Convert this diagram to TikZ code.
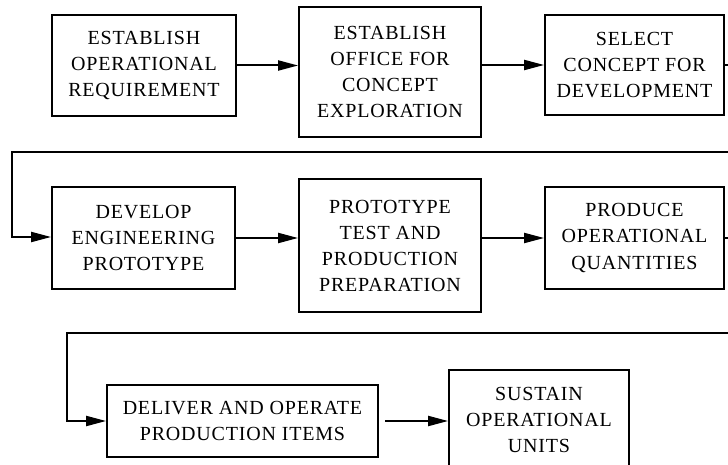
\documentclass[tikz,border=0pt]{standalone}
\usepackage{fontspec}
\setmainfont[LetterSpace=4.0]{Liberation Serif}
\usetikzlibrary{arrows.meta}
\begin{document}
\begin{tikzpicture}[x=1pt,y=-1pt,
  box/.style={draw, line width=1.8pt, inner sep=0pt, align=center,
    font=\fontsize{20}{26}\selectfont},
  flow/.style={line width=2pt, -{Triangle[length=20pt,width=10pt]}}]
\useasboundingbox (0,0) rectangle (728,465);
\clip (0,0) rectangle (728,465);
\node[box, minimum width=184pt, minimum height=101pt] (b1) at (144,65.5)
  {ESTABLISH\\OPERATIONAL\\REQUIREMENT};
\node[box, minimum width=182pt, minimum height=130pt] (b2) at (390,72)
  {ESTABLISH\\OFFICE FOR\\CONCEPT\\EXPLORATION};
\node[box, minimum width=179pt, minimum height=100pt] (b3) at (634.5,65)
  {SELECT\\CONCEPT FOR\\DEVELOPMENT};
\node[box, minimum width=183pt, minimum height=102pt] (b4) at (143.5,238)
  {DEVELOP\\ENGINEERING\\PROTOTYPE};
\node[box, minimum width=182pt, minimum height=133pt] (b5) at (390,245.5)
  {PROTOTYPE\\TEST AND\\PRODUCTION\\PREPARATION};
\node[box, minimum width=179pt, minimum height=102pt] (b6) at (634.5,238)
  {PRODUCE\\OPERATIONAL\\QUANTITIES};
\node[box, minimum width=271pt, minimum height=72pt] (b7) at (242.5,421)
  {DELIVER AND OPERATE\\PRODUCTION ITEMS};
\node[box, minimum width=180pt, minimum height=100pt, text depth=0pt] (b8) at (539,420)
  {SUSTAIN\\OPERATIONAL\\UNITS};
% free-end coordinates of the return lines
\coordinate (r1a) at (733,65);
\coordinate (r1b) at (733,152);
\coordinate (r1c) at (12,152);
\coordinate (r1d) at (12,237);
\coordinate (r2a) at (733,238);
\coordinate (r2b) at (733,333);
\coordinate (r2c) at (67,333);
\coordinate (r2d) at (67,421);
\coordinate (s7) at (385,421);
% connectors
\draw[flow] (b1.east) -- (b1.east -| b2.west);
\draw[flow] (b2.east |- b3.west) -- (b3.west);
\draw[flow] (b3.east) -- (r1a) -- (r1b) -- (r1c) -- (r1d) -- (r1d -| b4.west);
\draw[flow] (b4.east) -- (b4.east -| b5.west);
\draw[flow] (b5.east |- b6.west) -- (b6.west);
\draw[flow] (b6.east) -- (r2a) -- (r2b) -- (r2c) -- (r2d) -- (r2d -| b7.west);
\draw[flow] (s7) -- (s7 -| b8.west);
\end{tikzpicture}
\end{document}
